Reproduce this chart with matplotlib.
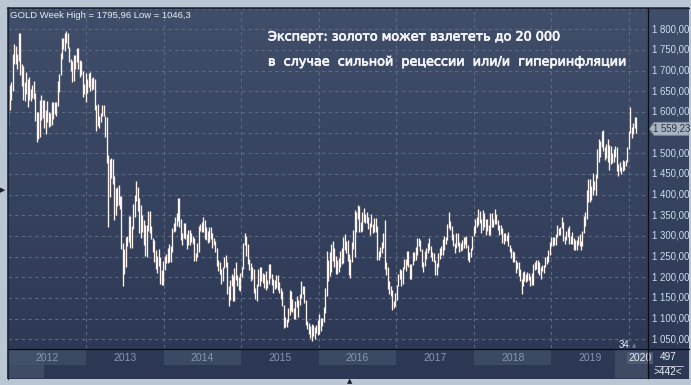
import matplotlib
matplotlib.use('Agg')
import matplotlib.pyplot as plt
import matplotlib.dates as mdates
import matplotlib.patheffects as pe
from matplotlib.colors import LinearSegmentedColormap
from matplotlib.lines import Line2D
from matplotlib.patches import Polygon, Rectangle
import numpy as np
import pandas as pd

# ===== weekly GOLD high / low, one list per year (weeks start 2012-01-02) =====
high_2012 = [1630, 1665, 1672, 1740, 1764, 1760, 1740, 1790, 1792, 1715, 1712, 1672, 1696,
             1680, 1684, 1656, 1666, 1675, 1647, 1600, 1600, 1630, 1641, 1630, 1628, 1605,
             1627, 1600, 1597, 1625, 1623, 1625, 1625, 1675, 1693, 1742, 1778, 1780, 1790,
             1796, 1790, 1758, 1727, 1723, 1738, 1737, 1755, 1754, 1725, 1724, 1698, 1668]
low_2012 = [1565, 1605, 1630, 1650, 1715, 1715, 1705, 1723, 1690, 1662, 1630, 1627, 1644,
            1612, 1630, 1626, 1634, 1632, 1578, 1527, 1535, 1540, 1580, 1586, 1562, 1547,
            1576, 1563, 1565, 1568, 1583, 1595, 1590, 1615, 1648, 1690, 1727, 1753, 1747,
            1768, 1755, 1720, 1700, 1672, 1675, 1705, 1720, 1705, 1685, 1690, 1636, 1643]
high_2013 = [1694, 1680, 1695, 1697, 1683, 1684, 1680, 1616, 1619, 1590, 1598, 1616, 1617,
             1590, 1588, 1495, 1486, 1488, 1487, 1445, 1417, 1418, 1424, 1397, 1396, 1283,
             1268, 1298, 1300, 1348, 1348, 1323, 1378, 1398, 1434, 1418, 1392, 1374, 1350,
             1339, 1327, 1327, 1361, 1360, 1323, 1295, 1291, 1266, 1251, 1268, 1250, 1217]
low_2013 = [1625, 1645, 1660, 1650, 1652, 1655, 1605, 1555, 1565, 1562, 1575, 1590, 1590,
            1540, 1476, 1321, 1395, 1440, 1425, 1338, 1350, 1372, 1375, 1366, 1268, 1180,
            1207, 1224, 1275, 1285, 1270, 1272, 1318, 1346, 1385, 1360, 1308, 1295, 1310,
            1277, 1251, 1250, 1313, 1306, 1293, 1262, 1238, 1221, 1211, 1227, 1185, 1182]
high_2014 = [1240, 1251, 1256, 1270, 1280, 1275, 1320, 1332, 1345, 1355, 1392, 1391, 1340,
             1307, 1331, 1331, 1304, 1314, 1315, 1306, 1300, 1295, 1258, 1284, 1325, 1330,
             1333, 1346, 1338, 1322, 1311, 1322, 1321, 1306, 1296, 1287, 1270, 1242, 1237,
             1221, 1226, 1250, 1255, 1236, 1178, 1193, 1207, 1203, 1222, 1238, 1205, 1200]
low_2014 = [1182, 1217, 1234, 1235, 1238, 1238, 1261, 1310, 1313, 1325, 1337, 1322, 1291,
            1277, 1294, 1292, 1269, 1277, 1277, 1285, 1281, 1240, 1240, 1250, 1261, 1311,
            1310, 1310, 1292, 1290, 1282, 1285, 1293, 1272, 1277, 1262, 1228, 1215, 1207,
            1183, 1190, 1222, 1225, 1160, 1131, 1145, 1180, 1142, 1142, 1193, 1180, 1170]
high_2015 = [1211, 1224, 1283, 1307, 1300, 1280, 1244, 1234, 1224, 1220, 1173, 1183, 1219,
             1224, 1224, 1210, 1207, 1215, 1194, 1232, 1232, 1209, 1196, 1193, 1205, 1205,
             1188, 1175, 1166, 1133, 1105, 1100, 1126, 1170, 1168, 1147, 1125, 1142, 1156,
             1145, 1160, 1191, 1180, 1180, 1145, 1095, 1090, 1082, 1088, 1085, 1080, 1085]
low_2015 = [1167, 1200, 1220, 1277, 1252, 1231, 1217, 1191, 1196, 1162, 1147, 1142, 1180,
            1178, 1192, 1186, 1174, 1170, 1174, 1183, 1199, 1181, 1162, 1171, 1175, 1170,
            1162, 1147, 1130, 1077, 1080, 1080, 1093, 1110, 1118, 1116, 1098, 1100, 1128,
            1104, 1132, 1150, 1160, 1137, 1085, 1075, 1063, 1052, 1046, 1059, 1050, 1065]
high_2016 = [1097, 1111, 1101, 1101, 1127, 1174, 1263, 1243, 1261, 1280, 1287, 1272, 1252,
             1243, 1246, 1263, 1271, 1297, 1304, 1288, 1290, 1257, 1245, 1285, 1315, 1362,
             1358, 1375, 1372, 1335, 1357, 1367, 1352, 1358, 1347, 1331, 1352, 1330, 1344,
             1344, 1325, 1264, 1274, 1285, 1308, 1338, 1237, 1225, 1192, 1180, 1170, 1143]
low_2016 = [1061, 1064, 1071, 1082, 1093, 1113, 1155, 1191, 1204, 1214, 1240, 1226, 1208,
            1208, 1213, 1226, 1231, 1234, 1266, 1260, 1240, 1205, 1199, 1238, 1269, 1250,
            1309, 1340, 1310, 1310, 1312, 1334, 1331, 1332, 1316, 1302, 1321, 1307, 1310,
            1310, 1241, 1241, 1250, 1260, 1270, 1220, 1205, 1171, 1160, 1156, 1122, 1125]
high_2017 = [1162, 1182, 1207, 1220, 1218, 1226, 1245, 1245, 1264, 1264, 1233, 1233, 1261,
             1262, 1274, 1295, 1296, 1290, 1268, 1236, 1264, 1270, 1283, 1296, 1275, 1261,
             1260, 1242, 1235, 1259, 1271, 1275, 1293, 1300, 1298, 1328, 1357, 1337, 1325,
             1305, 1282, 1306, 1306, 1285, 1284, 1290, 1297, 1298, 1299, 1278, 1261, 1270]
low_2017 = [1130, 1146, 1180, 1195, 1180, 1185, 1219, 1216, 1230, 1224, 1195, 1196, 1229,
            1240, 1241, 1255, 1275, 1264, 1225, 1214, 1228, 1245, 1258, 1265, 1250, 1240,
            1236, 1205, 1206, 1226, 1244, 1255, 1253, 1266, 1280, 1290, 1320, 1315, 1290,
            1276, 1260, 1272, 1275, 1262, 1264, 1265, 1271, 1280, 1270, 1241, 1236, 1250]
high_2018 = [1300, 1325, 1340, 1345, 1366, 1361, 1340, 1362, 1356, 1340, 1340, 1326, 1356,
             1355, 1340, 1365, 1353, 1338, 1327, 1326, 1320, 1306, 1308, 1303, 1310, 1279,
             1272, 1264, 1262, 1243, 1238, 1236, 1220, 1196, 1214, 1215, 1208, 1212, 1210,
             1204, 1210, 1233, 1237, 1243, 1243, 1236, 1224, 1230, 1230, 1250, 1251, 1267]
low_2018 = [1266, 1300, 1307, 1322, 1326, 1331, 1307, 1315, 1321, 1303, 1311, 1302, 1303,
            1322, 1321, 1330, 1330, 1315, 1302, 1305, 1282, 1280, 1287, 1288, 1275, 1262,
            1246, 1238, 1237, 1211, 1219, 1204, 1190, 1160, 1180, 1190, 1189, 1191, 1193,
            1180, 1181, 1182, 1218, 1220, 1211, 1206, 1196, 1215, 1211, 1225, 1233, 1236]
high_2019 = [1285, 1298, 1298, 1297, 1305, 1326, 1320, 1322, 1346, 1333, 1300, 1312, 1320,
             1324, 1300, 1310, 1295, 1290, 1290, 1300, 1305, 1287, 1313, 1348, 1358, 1411,
             1439, 1437, 1420, 1452, 1434, 1450, 1510, 1535, 1530, 1555, 1557, 1515, 1523,
             1535, 1520, 1518, 1500, 1510, 1518, 1515, 1475, 1480, 1468, 1485, 1482, 1485, 1515]
low_2019 = [1255, 1275, 1276, 1277, 1277, 1298, 1302, 1302, 1320, 1289, 1280, 1290, 1297,
            1281, 1280, 1281, 1266, 1265, 1267, 1277, 1275, 1266, 1276, 1306, 1324, 1340,
            1382, 1382, 1388, 1400, 1412, 1400, 1440, 1480, 1490, 1515, 1505, 1484, 1489,
            1478, 1460, 1475, 1476, 1480, 1490, 1457, 1445, 1456, 1450, 1456, 1460, 1470, 1478]
high_2020 = [1553, 1611, 1563, 1574, 1589, 1588]
low_2020 = [1510, 1549, 1536, 1546, 1560, 1548]

last_price = 1559.23
price_levels = [1050, 1100, 1150, 1200, 1250, 1300, 1350, 1400, 1450, 1500, 1550,
                1600, 1650, 1700, 1750, 1800]
years = [2012, 2013, 2014, 2015, 2016, 2017, 2018, 2019, 2020]
title = 'GOLD Week High = 1795,96 Low = 1046,3'
note1 = 'Эксперт: золото может взлететь до 20 000'
note2 = 'в  случае  сильной  рецессии  или/и  гиперинфляции'

highs = np.concatenate([high_2012, high_2013, high_2014, high_2015, high_2016,
                        high_2017, high_2018, high_2019, high_2020])
lows = np.concatenate([low_2012, low_2013, low_2014, low_2015, low_2016,
                       low_2017, low_2018, low_2019, low_2020])
weeks = pd.date_range('2012-01-02', periods=len(highs), freq='7D')
xw = mdates.date2num(weeks.to_pydatetime())

UI = 'Liberation Sans'

# ===== layout in pixels =====
W, H = 691, 385
fig = plt.figure(figsize=(W / 100, H / 100), dpi=100)
fig.patch.set_facecolor('#bac6d4')


def box(l, t, r, b):
    return [l / W, 1 - b / H, (r - l) / W, (b - t) / H]


def fline(x0, y0, x1, y1, **kw):
    fig.add_artist(Line2D([x0 / W, x1 / W], [1 - y0 / H, 1 - y1 / H], **kw))


def money(v):
    return f'{v:,.2f}'.replace(',', ' ').replace('.', ',')


# gradient backdrop
bg = fig.add_axes(box(7, 7, 689, 379))
cmap = LinearSegmentedColormap.from_list('bg', ['#414e69', '#2c3853'])
bg.imshow(np.linspace(0, 1, 256)[:, None], aspect='auto', cmap=cmap,
          extent=[0, 1, 0, 1])
bg.axis('off')

d2013 = mdates.date2num(pd.Timestamp('2013-01-01'))
d2020 = mdates.date2num(pd.Timestamp('2020-01-01'))
ppd = (629 - 86) / (d2020 - d2013)
xlim = (d2013 - 78 / ppd, d2020 + 19 / ppd)
ylim = (1029, 1851.5)

ax = fig.add_axes(box(8, 8, 648, 348))
ax.patch.set_alpha(0)
ax.set_xlim(xlim)
ax.set_ylim(ylim)
ax.axis('off')

grid_kw = dict(color='#5d6983', linewidth=0.8, linestyles=(0, (3, 3)), zorder=1)
ax.hlines(price_levels + [1850], xlim[0], xlim[1], **grid_kw)
year_x = [mdates.date2num(pd.Timestamp(f'{y}-01-01')) for y in years]
ax.vlines(year_x[1:], ylim[0], ylim[1], **grid_kw)

ax.vlines(xw, lows, highs, color='#fff3ee', linewidth=0.95, zorder=3)

# right price axis
rax = fig.add_axes(box(648, 8, 689, 348))
rax.patch.set_alpha(0)
rax.set_xlim(0, 41)
rax.set_ylim(ylim)
rax.axis('off')
ppp = (ylim[1] - ylim[0]) / 340  # price per pixel
for v in price_levels:
    if abs(v - last_price) < 10 * ppp:
        continue  # hidden under the last-price tag
    rax.text(3.5, v, money(v), fontsize=6.9, family=UI, color='#cddcee',
             va='center', ha='left', zorder=2)

tag = [(1.5, last_price), (6, last_price + 6.5 * ppp), (41, last_price + 6.5 * ppp),
       (41, last_price - 6.5 * ppp), (6, last_price - 6.5 * ppp)]
rax.add_patch(Polygon(tag, closed=True, facecolor='#aab3c0', edgecolor='#7e8898',
                      linewidth=0.6, zorder=4))
rax.text(5, last_price, money(last_price), fontsize=6.9, family=UI, color='#2a3448',
         va='center', ha='left', zorder=5)

# bottom time axis
bax = fig.add_axes(box(8, 349, 648, 378))
bax.patch.set_alpha(0)
bax.set_xlim(xlim)
bax.set_ylim(29, 0)
bax.axis('off')
for i, y in enumerate(years[:-1]):
    if i % 2 == 0:
        bax.add_patch(Rectangle((year_x[i], 1), year_x[i + 1] - year_x[i], 15,
                                facecolor='#3c4962', edgecolor='none', zorder=1))
    bax.text((year_x[i] + year_x[i + 1]) / 2, 9, str(y), fontsize=7.5, family=UI,
             color='#8796ae', ha='center', va='center', zorder=3)
bax.add_patch(Rectangle((xlim[0], 1), 36 / ppd, 28, facecolor='#47546c',
                        edgecolor='none', alpha=0.7, zorder=2))
bax.add_patch(Rectangle((year_x[-1] - 14 / ppd, 1), xlim[1] - year_x[-1] + 14 / ppd, 28,
                        facecolor='#3e4a62', edgecolor='none', zorder=1))
bax.text(year_x[-1] - 0.5 / ppd, 9, str(years[-1]), fontsize=7.5, family=UI,
         color='#e2eaf4', ha='left', va='center', zorder=3,
         bbox=dict(boxstyle='square,pad=0.1', facecolor='#4e5b74', edgecolor='none'))

# frame lines
fline(7, 7.5, 689, 7.5, color='#1d2434', linewidth=0.8)
fline(7.5, 7, 7.5, 379, color='#1d2434', linewidth=0.8)
fline(648, 8, 648, 378, color='#0a0d14', linewidth=0.9)
fline(8, 349, 689, 349, color='#0a0d14', linewidth=0.9)

# texts
thick = [pe.withStroke(linewidth=0.5, foreground='#f4f6fa')]
fig.text(10 / W, 1 - 15 / H, title, fontsize=6.8, family=UI, color='#e6edf6',
         va='center', ha='left')
fig.text(268 / W, 1 - 37 / H, note1, fontsize=9.2, color='#f4f6fa', va='center',
         ha='left', path_effects=thick)
fig.text(268 / W, 1 - 62 / H, note2, fontsize=9.2, color='#f4f6fa', va='center',
         ha='left', path_effects=thick)
fig.text(619 / W, 1 - 345 / H, '34', fontsize=7, family=UI, color='#e6edf6',
         va='center', ha='left')
fig.text(634 / W, 1 - 346 / H, '▲', fontsize=4, color='#6f7b90', va='center', ha='center')
fig.text(668 / W, 1 - 357 / H, '497', fontsize=7.2, family=UI, color='#e6edf6',
         va='center', ha='center')
fline(655, 366, 683, 366, color='#c8d2e0', linewidth=0.6)
fig.text(668 / W, 1 - 372 / H, '>442<', fontsize=7.2, family=UI, color='#e6edf6',
         va='center', ha='center')
fig.text(3 / W, 1 - 190 / H, '▶', fontsize=5, color='#1a1f2a', va='center', ha='center')
fig.text(350 / W, 1 - 381 / H, '▲', fontsize=5, color='#1a1f2a', va='center', ha='center')

fig.savefig('out.png', dpi=100, facecolor=fig.get_facecolor())
